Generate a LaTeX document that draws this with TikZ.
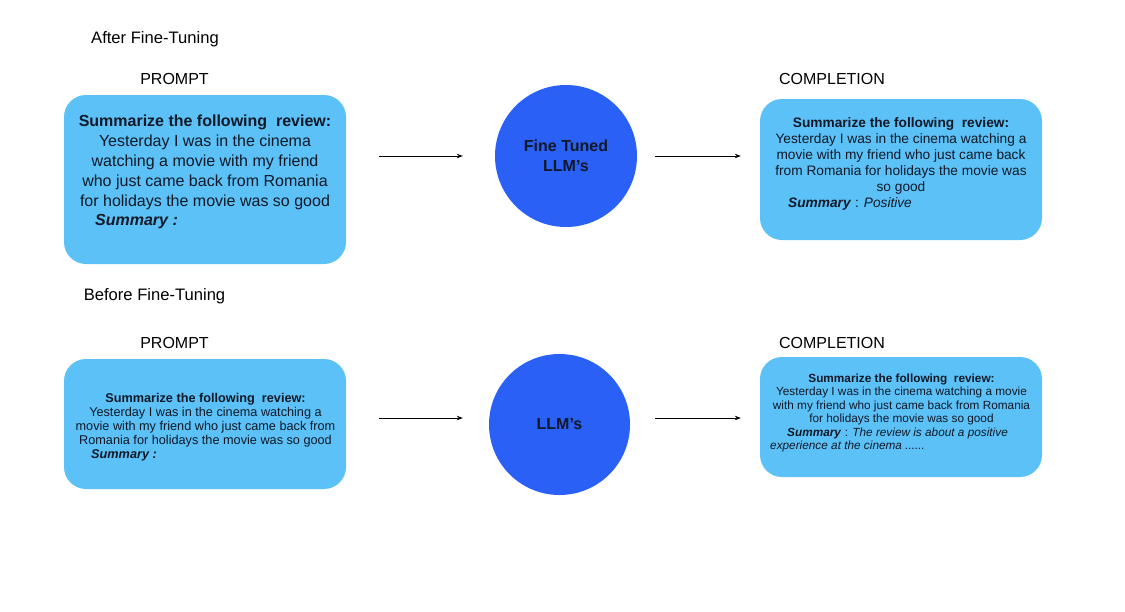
\documentclass[tikz,border=0pt]{standalone}
\usepackage{fontspec}
\setmainfont{Liberation Sans}
\usepackage{xcolor}
\usetikzlibrary{arrows.meta}
\definecolor{promptblue}{HTML}{5BC1F6}
\definecolor{llmblue}{HTML}{2A60F5}
\definecolor{inktext}{HTML}{111827}

\begin{document}
\begin{tikzpicture}[x=1pt, y=-1pt,
    panel/.style={rectangle, rounded corners=22pt, fill=promptblue, minimum width=282pt, inner sep=0pt},
    llm/.style={circle, fill=llmblue, inner sep=0pt, align=center, text=inktext, font=\fontsize{16}{20}\selectfont\bfseries},
    heading/.style={inner sep=0pt, font=\fontsize{16}{20}\selectfont},
    body/.style={align=center, inner sep=0pt, text=inktext},
    arrow/.style={-{Stealth[length=6pt, width=4.5pt]}, line width=0.8pt}
]
    \fill[white] (0,0) rectangle (1125,611);
    \useasboundingbox (0,0) rectangle (1125,611);

    % After fine-tuning
    \node[heading, font=\fontsize{16.6}{20}\selectfont] (after) at (155,39.5) {After Fine-Tuning};
    \node[heading] (prompt1) at (174.5,79) {PROMPT};
    \node[heading] (compl1) at (832,79) {COMPLETION};

    \node[panel, minimum height=169pt] (pl1) at (205,179.5) {};
    \node[body, font=\fontsize{16}{20}\selectfont] (pl1txt) at (205,162)
        {\textbf{Summarize the following\ \ review:}\\
         Yesterday I was in the cinema\\
         watching a movie with my friend\\
         who just came back from Romania\\
         for holidays the movie was so good};
    \node[body, anchor=west, font=\fontsize{16}{20}\selectfont] (pl1sum) at (95,222) {\textbf{\textit{Summary :}}};

    \node[llm, minimum size=142pt] (llm1) at (566,156) {Fine Tuned\\LLM’s};

    \node[panel, minimum height=141pt] (cp1) at (901,169.5) {};
    \node[body, font=\fontsize{13.7}{16}\selectfont] (cp1txt) at (901,155.5)
        {\textbf{Summarize the following\ \ review:}\\
         Yesterday I was in the cinema watching a\\
         movie with my friend who just came back\\
         from Romania for holidays the movie was\\
         so good};
    \node[body, anchor=west, font=\fontsize{13.7}{16}\selectfont] (cp1sum) at (788,204) {\textbf{\textit{Summary}} : \textit{Positive}};

    % Before fine-tuning
    \node[heading, font=\fontsize{16.6}{20}\selectfont] (before) at (154.5,296.5) {Before Fine-Tuning};
    \node[heading] (prompt2) at (174.5,343) {PROMPT};
    \node[heading] (compl2) at (832,343) {COMPLETION};

    \node[panel, minimum height=130pt] (pl2) at (205,424) {};
    \node[body, font=\fontsize{12.7}{14}\selectfont] (pl2txt) at (205.5,420)
        {\textbf{Summarize the following\ \ review:}\\
         Yesterday I was in the cinema watching a\\
         movie with my friend who just came back from\\
         Romania for holidays the movie was so good};
    \node[body, anchor=west, font=\fontsize{12.7}{14}\selectfont] (pl2sum) at (91,455) {\textbf{\textit{Summary :}}};

    \node[llm, minimum size=141pt] (llm2) at (559.5,424.5) {LLM’s};

    \node[panel, minimum height=120pt] (cp2) at (901,417) {};
    \node[body, font=\fontsize{11.8}{13.5}\selectfont] (cp2txt) at (901.5,399.5)
        {\textbf{Summarize the following\ \ review:}\\
         Yesterday I was in the cinema watching a movie\\
         with my friend who just came back from Romania\\
         for holidays the movie was so good};
    \node[body, anchor=west, align=left, font=\fontsize{11.8}{13.5}\selectfont] (cp2sum) at (770,440)
        {\hspace*{17pt}\textbf{\textit{Summary}} : \textit{The review is about a positive}\\
         \textit{experience at the cinema ......}};

    % Arrows
    \draw[arrow, shorten <=33pt, shorten >=32pt] (pl1.east |- llm1.west) -- (llm1.west);
    \draw[arrow, shorten <=18pt, shorten >=19pt] (llm1.east) -- (llm1.east -| cp1.west);
    \coordinate (a2) at ([yshift=6pt]pl2.east);
    \coordinate (b2) at ([yshift=6.5pt]llm2.east);
    \draw[arrow, shorten <=33pt, shorten >=26pt] (a2) -- (a2 -| llm2.west);
    \draw[arrow, shorten <=25pt, shorten >=19pt] (b2) -- (b2 -| cp2.west);

\end{tikzpicture}
\end{document}
